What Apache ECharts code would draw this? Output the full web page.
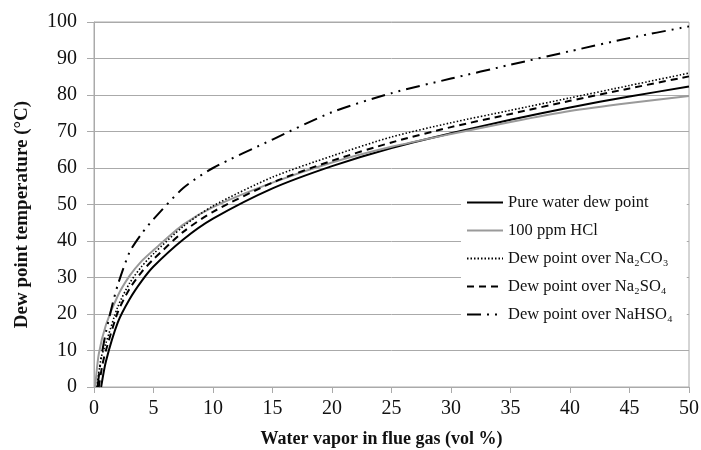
<!DOCTYPE html>
<html>
<head>
<meta charset="utf-8">
<script src="https://cdn.jsdelivr.net/npm/echarts@6/dist/echarts.min.js"></script>
<style>
  html, body { margin: 0; padding: 0; background: #fff; }
  #chart { width: 701px; height: 450px; }
</style>
</head>
<body>
<div id="chart"></div>
<script>
const seriesNames = [
  "Pure water dew point",
  "100 ppm HCl",
  "Dew point over Na₂CO₃",
  "Dew point over Na₂SO₄",
  "Dew point over NaHSO₄",
];

// [vol %, °C]
const pureWater = [[0.6,0],[1,7],[2,17.7],[3,24.1],[4,29],[5,33],[7.5,40.4],[10,46.1],[15,54.4],[20,60.5],[25,65.5],[30,69.5],[35,73.2],[40,76.6],[45,79.6],[50,82.3]];
const hcl = [[0.1,0],[0.4,9],[1,17],[2,25],[3,30.5],[4,34.5],[5,37.5],[7.5,44.5],[10,49.3],[15,56],[20,61.5],[25,65.8],[30,69.3],[35,72.6],[40,75.6],[45,77.8],[50,79.7]];
const na2co3 = [[0.25,0],[0.6,8],[1,12],[2,22],[3,28.5],[4,33],[5,36.5],[7.5,44],[10,49.6],[15,57.5],[20,63.3],[25,68.5],[30,72.4],[35,75.8],[40,79.2],[45,82.6],[50,86]];
const na2so4 = [[0.4,0],[0.7,6],[1,10],[2,20.5],[3,27],[4,31.5],[5,35],[7.5,42.5],[10,48],[15,56],[20,62],[25,67],[30,71.2],[35,74.8],[40,78.4],[45,81.8],[50,85.1]];
const nahso4 = [[0.3,0],[0.6,8],[1,15],[1.5,22],[2,28],[3,37],[4,42],[5,46],[7.5,54.5],[10,60],[15,67.8],[20,75.3],[25,80.5],[30,84.5],[35,88.3],[40,92],[45,95.6],[50,98.8]];

const serif = "Liberation Serif";
const chart = echarts.init(document.getElementById("chart"));

function lineSeries(name, data, color, width, type) {
  return {
    name: name,
    type: "line",
    data: data,
    showSymbol: false,
    symbol: "none",
    smooth: 0.25,
    lineStyle: { color: color, width: width, type: type },
    itemStyle: { color: color },
  };
}

chart.setOption({
  animation: false,
  grid: {
    left: 94, right: 12, top: 22, bottom: 63,
    containLabel: false,
    outerBoundsMode: "none",
    show: true, borderColor: "#aaa", borderWidth: 1,
  },
  legend: {
    orient: "vertical",
    left: 461,
    top: 186,
    backgroundColor: "#fff",
    padding: [8, 14, 10, 5],
    itemWidth: 36,
    itemHeight: 14,
    itemGap: 11,
    itemStyle: { opacity: 0 },
    data: seriesNames,
    textStyle: { fontFamily: serif, fontSize: 16.5, color: "#111" },
  },
  xAxis: {
    type: "value",
    min: 0,
    max: 50,
    interval: 5,
    name: "Water vapor in flue gas (vol %)",
    nameLocation: "middle",
    nameGap: 43,
    nameTextStyle: { fontFamily: serif, fontSize: 18, fontWeight: "bold", color: "#111", padding: [0, 20, 0, 0] },
    axisLine: { show: true, lineStyle: { color: "#aaa" } },
    axisTick: { show: true, length: 6, lineStyle: { color: "#aaa" } },
    axisLabel: { fontFamily: serif, fontSize: 20, color: "#111", margin: 12 },
    splitLine: { show: false },
  },
  yAxis: {
    type: "value",
    min: 0,
    max: 100,
    interval: 10,
    name: "Dew point temperature (°C)",
    nameLocation: "middle",
    nameGap: 62,
    nameTextStyle: { fontFamily: serif, fontSize: 19, fontWeight: "bold", color: "#111", padding: [0, 20, 0, 0] },
    axisLine: { show: true, lineStyle: { color: "#aaa" } },
    axisTick: { show: true, length: 7, lineStyle: { color: "#aaa" } },
    axisLabel: { fontFamily: serif, fontSize: 20, color: "#111", margin: 17 },
    splitLine: { show: true, lineStyle: { color: "#aaa", width: 1 } },
  },
  series: [
    lineSeries(seriesNames[0], pureWater, "#000", 2, "solid"),
    lineSeries(seriesNames[1], hcl, "#9a9a9a", 2, "solid"),
    lineSeries(seriesNames[2], na2co3, "#000", 1.6, [1.5, 2]),
    lineSeries(seriesNames[3], na2so4, "#000", 2, [7, 5]),
    lineSeries(seriesNames[4], nahso4, "#000", 2, [14, 6, 2, 6, 2, 6]),
  ],
});

window.addEventListener("resize", () => {
  chart.resize();
});
</script>
</body>
</html>
